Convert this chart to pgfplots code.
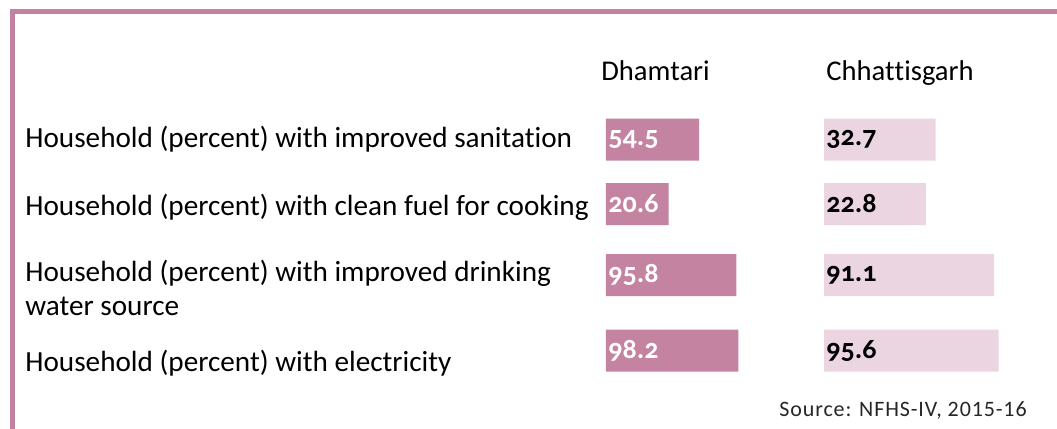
\documentclass[border=0pt]{standalone}
\usepackage{fontspec}
\setmainfont{Carlito}[Ligatures={TeX,NoCommon}]
\newfontfamily\numfont[Numbers=OldStyle]{Carlito}
\usepackage{pgfplots}
\pgfplotsset{compat=1.18}
\usepackage{pgfplotstable}

\definecolor{dham}{HTML}{C383A1}
\definecolor{chh}{HTML}{EBD5E1}
\definecolor{framec}{HTML}{C2829F}

% pos = row position (pixel rows from the top), dh = Dhamtari, ch = Chhattisgarh
\pgfplotstableread{
pos   dh   ch
139.5 54.5 32.7
204   20.6 22.8
275   95.8 91.1
350.5 98.2 95.6
}\datatab

\newcommand\offA{49}
\newcommand\offB{79}

\pgfplotsset{
  rowaxis/.style={
    scale only axis, anchor=north west,
    ymin=100, ymax=390, y dir=reverse, y=0.5pt,
    axis line style={draw=none}, major tick length=0pt,
    xtick=\empty, ytick=\empty,
    bar width=21pt, clip=false,
    title style={at={(0,1)}, anchor=base west, inner sep=0pt, yshift=4pt,
      font=\fontsize{14.3pt}{17pt}\selectfont},
  },
  vallabel/.style={draw=none, mark=none, nodes near coords,
    point meta=explicit symbolic,
    every node near coord/.append style={anchor=west, inner sep=0pt, xshift=1pt,
      font={\numfont\bfseries\fontsize{14pt}{16pt}\selectfont}}},
}

\begin{document}
\begin{tikzpicture}
\path[use as bounding box] (0,0) rectangle (528.5pt,214.5pt);
\draw[framec, line width=2.5pt] (6.25pt,0pt) -- (6.25pt,208.75pt) -- (528.5pt,208.75pt);

\begin{axis}[rowaxis, at={(303pt,164.5pt)},
  x=0.45pt, xmin=-\offA, xmax=100,
  x coord trafo/.code={\pgfmathparse{#1+\offA}},
  x coord inv trafo/.code={\pgfmathparse{#1-\offA}},
  title={Dhamtari}, title style={xshift=-2.5pt},
  ytick={147,215,315,371},
  yticklabels={Household (percent) with improved sanitation,
    Household (percent) with clean fuel for cooking,
    {Household (percent) with improved drinking\\water source},
    Household (percent) with electricity},
  yticklabel style={anchor=base west, inner sep=0pt, xshift=-290.5pt, align=left,
    font=\fontsize{14.6pt}{17pt}\selectfont},
]
\addplot[xbar, bar shift=0pt, fill=dham, draw=none] table[x=dh, y=pos] {\datatab};
\addplot[vallabel, every node near coord/.append style={text=white}]
  table[x expr=-\offA, y=pos, meta=dh] {\datatab};
\end{axis}

\begin{axis}[rowaxis, at={(412pt,164.5pt)},
  x=0.5pt, xmin=-\offB, xmax=100,
  x coord trafo/.code={\pgfmathparse{#1+\offB}},
  x coord inv trafo/.code={\pgfmathparse{#1-\offB}},
  title={Chhat\kern0pt tisgarh}, title style={xshift=1pt},
]
\addplot[xbar, bar shift=0pt, fill=chh, draw=none] table[x=ch, y=pos] {\datatab};
\addplot[vallabel, every node near coord/.append style={text=black}]
  table[x expr=-\offB, y=pos, meta=ch] {\datatab};
\end{axis}

\node[anchor=base west, inner sep=0pt, text=black!85,
  font={\addfontfeatures{LetterSpace=4}\fontsize{11pt}{13pt}\selectfont}]
  at (389.5pt,6pt) {Source: NFHS-IV, 2015-16};
\end{tikzpicture}
\end{document}
